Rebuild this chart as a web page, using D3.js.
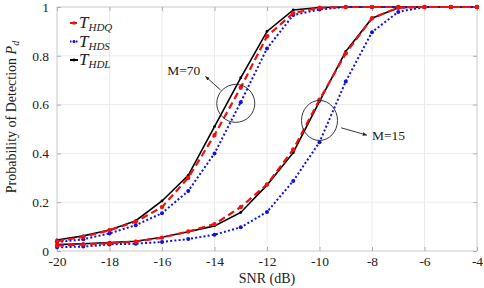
<!DOCTYPE html>
<html>
<head>
<meta charset="utf-8">
<script src="https://cdn.jsdelivr.net/npm/d3@7"></script>
<style>
  body { margin: 0; background: #fff; }
  svg text { font-family: "Liberation Serif", "Times New Roman", "DejaVu Serif", serif !important; fill: #222; }
</style>
</head>
<body>
<div id="chart"></div>
<script>
// SNR axis values (dB)
const snr = [-20, -19, -18, -17, -16, -15, -14, -13, -12, -11, -10, -9, -8, -7, -6, -5, -4];

// M = 70
const hdl70 = [0.045, 0.062, 0.086, 0.124, 0.205, 0.31, 0.51, 0.71, 0.90, 0.988, 0.998, 1, 1, 1, 1, 1, 1];
const hdq70 = [0.040, 0.058, 0.085, 0.120, 0.180, 0.30, 0.475, 0.67, 0.88, 0.975, 0.997, 1, 1, 1, 1, 1, 1];
const hds70 = [0.036, 0.048, 0.072, 0.106, 0.155, 0.246, 0.40, 0.61, 0.83, 0.967, 0.99, 1, 1, 1, 1, 1, 1];

// M = 15
const hdl15 = [0.026, 0.030, 0.035, 0.040, 0.056, 0.079, 0.103, 0.158, 0.27, 0.403, 0.613, 0.818, 0.954, 0.997, 1, 1, 1];
const hdq15 = [0.022, 0.027, 0.032, 0.038, 0.055, 0.080, 0.110, 0.180, 0.273, 0.416, 0.62, 0.81, 0.954, 0.997, 1, 1, 1];
const hds15 = [0.015, 0.018, 0.027, 0.030, 0.037, 0.049, 0.067, 0.097, 0.16, 0.287, 0.446, 0.695, 0.897, 0.98, 1, 1, 1];

const xTicks = [-20, -18, -16, -14, -12, -10, -8, -6, -4];
const yTicks = [0, 0.2, 0.4, 0.6, 0.8, 1];

const width = 484, height = 288;
const margin = { top: 7, right: 7, bottom: 37, left: 57 };
const w = width - margin.left - margin.right;
const h = height - margin.top - margin.bottom;
const serif = "Liberation Serif, Times New Roman, serif";

const x = d3.scaleLinear().domain([-20, -4]).range([0, w]);
const y = d3.scaleLinear().domain([0, 1]).range([h, 0]);

const svg = d3.select("#chart").append("svg").attr("width", width).attr("height", height)
  .attr("font-family", serif);
const g = svg.append("g").attr("transform", "translate(" + margin.left + "," + margin.top + ")");

// grid
g.selectAll(".gx").data(xTicks).enter().append("line")
  .attr("x1", d => x(d)).attr("x2", d => x(d)).attr("y1", 0).attr("y2", h)
  .attr("stroke", "#ebebeb").attr("stroke-width", 1);
g.selectAll(".gy").data(yTicks).enter().append("line")
  .attr("y1", d => y(d)).attr("y2", d => y(d)).attr("x1", 0).attr("x2", w)
  .attr("stroke", "#ebebeb").attr("stroke-width", 1);

// box
g.append("rect").attr("width", w).attr("height", h)
  .attr("fill", "none").attr("stroke", "#d4d4d4").attr("stroke-width", 1);

// axes (ticks inside)
const xAxis = g.append("g").attr("transform", "translate(0," + h + ")")
  .call(d3.axisBottom(x).tickValues(xTicks).tickSizeInner(-4).tickSizeOuter(0).tickPadding(5));
const yAxis = g.append("g")
  .call(d3.axisLeft(y).tickValues(yTicks).tickSizeInner(-4).tickSizeOuter(0).tickPadding(8)
    .tickFormat(d => d === 0 ? "0" : d === 1 ? "1" : d3.format(".1f")(d)));
g.append("g").call(d3.axisTop(x).tickValues(xTicks).tickSizeInner(-4).tickSizeOuter(0).tickFormat(""));
g.append("g").attr("transform", "translate(" + w + ",0)")
  .call(d3.axisRight(y).tickValues(yTicks).tickSizeInner(-4).tickSizeOuter(0).tickFormat(""));
g.selectAll(".domain").remove();
g.selectAll("g").attr("font-family", serif);
g.selectAll(".tick line").attr("stroke", "#b0b0b0");
g.selectAll(".tick text").attr("font-size", 13.5).attr("fill", "#222");
xAxis.selectAll(".tick text").text(d => d < 0 ? "-" + Math.abs(d) : d);

// axis labels
svg.append("text").attr("x", margin.left + x(-12)).attr("y", 283)
  .attr("text-anchor", "middle").attr("font-size", 14).text("SNR (dB)");
const yl = svg.append("text").attr("transform", "translate(16," + 117 + ") rotate(-90)")
  .attr("text-anchor", "middle").attr("font-size", 14);
yl.append("tspan").text("Probability of Detection ");
yl.append("tspan").attr("font-style", "italic").text("P");
yl.append("tspan").attr("font-style", "italic").attr("font-size", 10).attr("dy", 3).text("d");

// series
const series = [
  { vals: hdl70, color: "#000", dash: null, sw: 1.6, r: 1.4 },
  { vals: hdl15, color: "#000", dash: null, sw: 1.6, r: 1.4 },
  { vals: hds70, color: "#1010e0", dash: "2,2.2", sw: 2, r: 2 },
  { vals: hds15, color: "#1010e0", dash: "2,2.2", sw: 2, r: 2 },
  { vals: hdq70, color: "#f01010", dash: "7,4", sw: 2.2, r: 2.2 },
  { vals: hdq15, color: "#f01010", dash: "7,4", sw: 2.2, r: 2.2 }
];
const line = d3.line().x(d => x(d[0])).y(d => y(d[1]));
series.forEach(s => {
  const pts = snr.map((v, i) => [v, s.vals[i]]);
  g.append("path").datum(pts).attr("d", line)
    .attr("fill", "none").attr("stroke", s.color).attr("stroke-width", s.sw)
    .attr("stroke-dasharray", s.dash);
  g.selectAll(null).data(pts).enter().append("circle")
    .attr("cx", d => x(d[0])).attr("cy", d => y(d[1])).attr("r", s.r)
    .attr("fill", s.color);
});

// annotations
svg.append("defs").append("marker").attr("id", "ah").attr("viewBox", "0 0 10 10")
  .attr("refX", 9).attr("refY", 5).attr("markerWidth", 5).attr("markerHeight", 5)
  .attr("orient", "auto").append("path").attr("d", "M0,1 L10,5 L0,9 z").attr("fill", "#222");

const ann = [
  { cx: -13.19, cy: 0.605, rx: 19, ry: 19, from: [-13.77, 0.66], to: [-14.34, 0.715], tx: -15.8, ty: 0.74, label: "M=70" },
  { cx: -10.0, cy: 0.535, rx: 18, ry: 20, from: [-9.18, 0.505], to: [-8.2, 0.475], tx: -8.0, ty: 0.475, label: "M=15" }
];
ann.forEach(a => {
  g.append("ellipse").attr("cx", x(a.cx)).attr("cy", y(a.cy)).attr("rx", a.rx).attr("ry", a.ry)
    .attr("fill", "none").attr("stroke", "#222").attr("stroke-width", 0.9);
  g.append("line").attr("x1", x(a.from[0])).attr("y1", y(a.from[1]))
    .attr("x2", x(a.to[0])).attr("y2", y(a.to[1]))
    .attr("stroke", "#222").attr("stroke-width", 0.9).attr("marker-end", "url(#ah)");
  g.append("text").attr("x", x(a.tx)).attr("y", y(a.ty)).attr("dy", "0.35em")
    .attr("font-size", 13.5).text(a.label);
});

// legend
const legend = [
  { name: "HDQ", color: "#f01010", dash: "7,4", r: 1.8 },
  { name: "HDS", color: "#1010e0", dash: "1.5,1.5", r: 1.5 },
  { name: "HDL", color: "#000", dash: null, r: 1.4 }
];
const lg = g.append("g").attr("transform", "translate(13,16)");
legend.forEach((d, i) => {
  const row = lg.append("g").attr("transform", "translate(0," + i * 18.5 + ")");
  row.append("line").attr("x1", 0).attr("x2", 8).attr("stroke", d.color)
    .attr("stroke-width", 2).attr("stroke-dasharray", d.dash);
  row.append("circle").attr("cx", 4).attr("cy", 0).attr("r", d.r).attr("fill", d.color);
  const t = row.append("text").attr("x", 9).attr("y", 5).attr("font-size", 17).attr("font-style", "italic");
  t.append("tspan").text("T");
  t.append("tspan").attr("dy", 3).attr("font-size", 11).text(d.name);
});
</script>
</body>
</html>
